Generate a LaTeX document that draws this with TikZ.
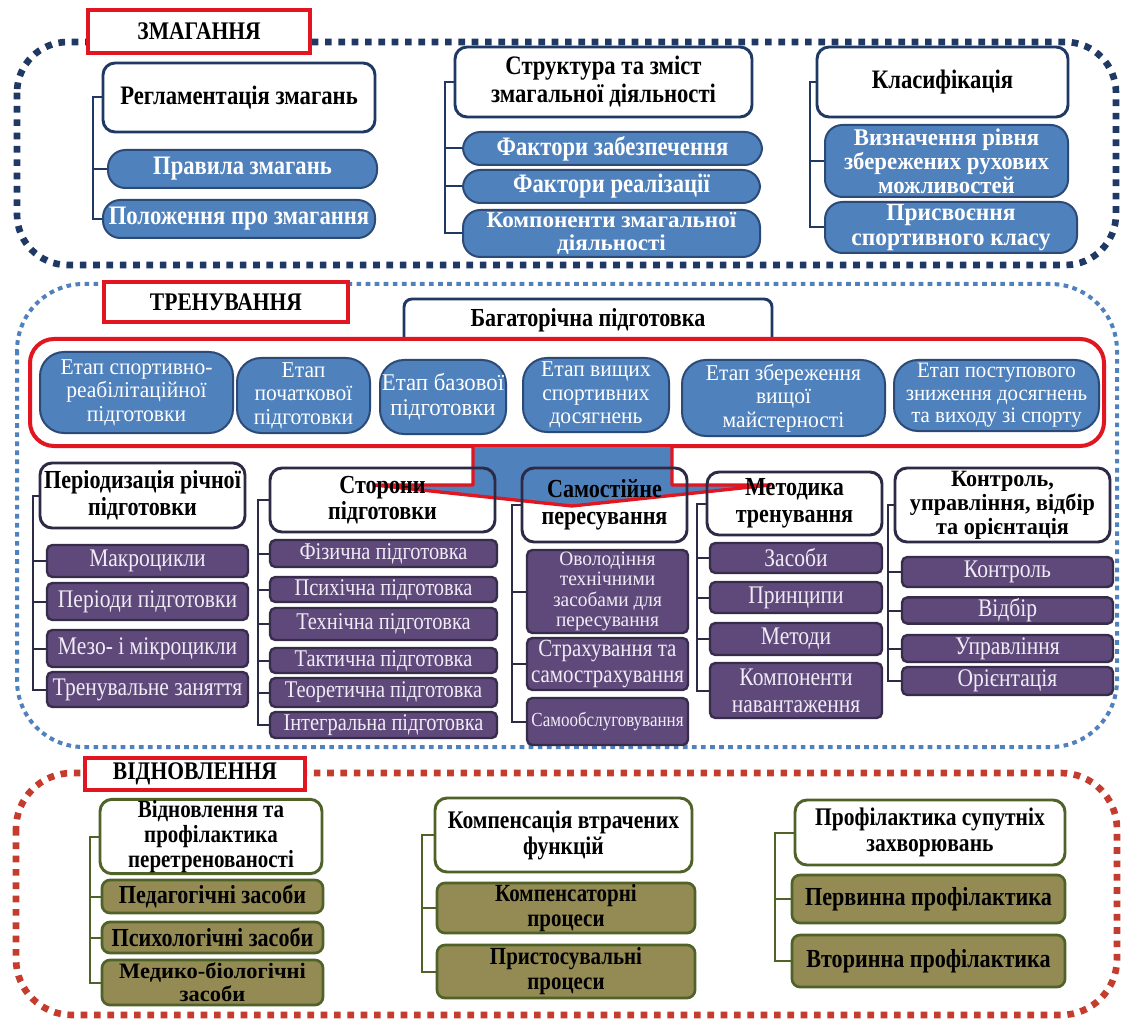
\documentclass[tikz,border=0pt]{standalone}
\usepackage{fontspec}
\setmainfont{Liberation Serif}[FakeStretch=0.85]
\newfontfamily\fA{Liberation Serif}[FakeStretch=0.95]
\newfontfamily\fB{Liberation Serif}[FakeStretch=1.02]
\definecolor{navy}{RGB}{31,56,100}
\definecolor{dotblue}{RGB}{79,129,189}
\definecolor{dotred}{RGB}{196,60,45}
\definecolor{tred}{RGB}{226,22,32}
\definecolor{bfill}{RGB}{79,129,189}
\definecolor{bdraw}{RGB}{44,74,120}
\definecolor{pfill}{RGB}{95,73,122}
\definecolor{pdraw}{RGB}{55,45,75}
\definecolor{ptext}{RGB}{240,236,246}
\definecolor{hdraw}{RGB}{45,42,70}
\definecolor{ofill}{RGB}{148,138,84}
\definecolor{odraw}{RGB}{79,98,40}
\newcommand\bx[7]{\node[#6, minimum width={(#4-#2)*0.75pt}, minimum height={(#5-#3)*0.75pt}] (#1) at ({(#2+#4)/2},{(#3+#5)/2}) {#7};}
\begin{document}
\begin{tikzpicture}[x=0.75pt,y=-0.75pt,
  base/.style={inner sep=1pt, align=center},
  titlebox/.style={base, draw=tred, line width=3pt, fill=white, font=\bfseries\fontsize{19}{19}\selectfont},
  tophead/.style={base, draw=navy, line width=2.2pt, fill=white, rounded corners=9pt, font=\bfseries\fontsize{20}{21}\selectfont},
  topitem/.style={base, draw=bdraw, line width=1.5pt, fill=bfill, text=white, rounded corners=13pt, font=\bfseries\fontsize{20}{20}\selectfont},
  stage/.style={base, draw=bdraw, line width=1.5pt, fill=bfill, text=white, rounded corners=18pt, font=\fA\fontsize{17}{17.5}\selectfont},
  multihead/.style={base, draw=navy, line width=2.2pt, fill=white, rounded corners=6pt, font=\bfseries\fontsize{19.5}{20}\selectfont},
  trhead/.style={base, draw=hdraw, line width=2.2pt, rounded corners=9pt, font=\bfseries\fontsize{19.5}{20}\selectfont},
  pitem/.style={base, draw=pdraw, line width=1.8pt, fill=pfill, text=ptext, rounded corners=4pt, font=\fontsize{19}{19.5}\selectfont},
  rhead/.style={base, draw=odraw, line width=2.2pt, fill=white, rounded corners=9pt, font=\bfseries\fontsize{19}{19.5}\selectfont},
  oitem/.style={base, draw=odraw, line width=2pt, fill=ofill, text=black, rounded corners=6pt, font=\bfseries\fontsize{19.5}{20}\selectfont},
  connA/.style={draw=navy, line width=1.5pt},
  connB/.style={draw=hdraw, line width=1.5pt},
  connC/.style={draw=odraw, line width=1.5pt}
]
\useasboundingbox (0,0) rectangle (1123,1019);
\fill[white] (0,0) rectangle (1123,1019);

% section frames
\draw[navy, line width=5pt, dash pattern=on 5pt off 5pt, rounded corners=38pt] (17,42) rectangle (1116,265);
\draw[dotblue, line width=3pt, dash pattern=on 3.5pt off 3.3pt, rounded corners=50pt] (17,284) rectangle (1117,747);
\draw[dotred, line width=5pt, dash pattern=on 5pt off 5pt, rounded corners=42pt] (16,773) rectangle (1117,1015);

% ===== ЗМАГАННЯ =====
\bx{tz}{88}{10}{310}{53}{titlebox}{ЗМАГАННЯ}
\bx{h1}{103}{63}{375}{132}{tophead}{Регламентація змагань}
\bx{a1}{108}{150}{377}{188}{topitem}{Правила змагань}
\bx{a2}{103}{200}{375}{238}{topitem}{Положення про змагання}
\bx{h2}{455}{47}{752}{117}{tophead}{Структура та зміст\\змагальної діяльності}
\bx{b1}{463}{132}{762}{165}{topitem}{Фактори забезпечення}
\bx{b2}{463}{170}{760}{203}{topitem}{Фактори реалізації}
\bx{b3}{463}{210}{760}{257}{topitem, font=\fB\bfseries\fontsize{17}{17.3}\selectfont}{Компоненти змагальної\\діяльності}
\bx{h3}{817}{47}{1068}{117}{tophead}{Класифікація}
\bx{c1}{825}{125}{1068}{197}{topitem, font=\fA\bfseries\fontsize{18}{18}\selectfont}{Визначення рівня\\збережених рухових\\можливостей}
\bx{c2}{825}{202}{1077}{253}{topitem, font=\fA\bfseries\fontsize{18.5}{18.8}\selectfont}{Присвоєння\\спортивного класу}
\coordinate (sA) at (93,0);
\coordinate (sB) at (445,0);
\coordinate (sC) at (810,0);
\draw[connA] (h1.west) -| (sA |- a2.west) -- (a2.west);
\draw[connA] (a1.west) -- (a1.west -| sA);
\draw[connA] (h2.west) -| (sB |- b3.west) -- (b3.west);
\draw[connA] (b1.west) -- (b1.west -| sB);
\draw[connA] (b2.west) -- (b2.west -| sB);
\draw[connA] (h3.west) -| (sC |- c2.west) -- (c2.west);
\draw[connA] (c1.west) -- (c1.west -| sC);

% ===== ТРЕНУВАННЯ =====
\bx{tt}{104}{282}{348}{322}{titlebox}{ТРЕНУВАННЯ}
\node[multihead, minimum width={(772-404)*0.75pt}, minimum height={(346-299)*0.75pt}, text depth=7pt] (bp) at ({(404+772)/2},{(299+346)/2}) {Багаторічна підготовка};
\bx{rb}{30}{339}{1104}{446}{base, draw=tred, line width=3pt, fill=white, rounded corners=18pt}{}
\bx{st1}{40}{352}{233}{433}{stage}{Етап спортивно-\\реабілітаційної\\підготовки}
\bx{st2}{237}{358}{370}{433}{stage}{Етап\\початкової\\підготовки}
\bx{st3}{380}{360}{506}{434}{stage, font=\fA\fontsize{18}{18.5}\selectfont}{Етап базової\\підготовки}
\bx{st4}{523}{358}{669}{432}{stage}{Етап вищих\\спортивних\\досягнень}
\bx{st5}{682}{360}{885}{436}{stage}{Етап збереження\\вищої\\майстерності}
\bx{st6}{894}{360}{1099}{431}{stage, font=\fA\fontsize{16.5}{17}\selectfont}{Етап поступового\\зниження досягнень\\та виходу зі спорту}

% big arrow
\fill[bfill] (473,447) -- (473,485) -- (374,485) -- (572,506) -- (770,485) -- (672,485) -- (672,447) -- cycle;
\draw[tred, line width=2.5pt, line join=round] (473,446) -- (473,485) -- (374,485) -- (572,506) -- (770,485) -- (672,485) -- (672,446);

\bx{ph}{40}{463}{245}{528}{trhead, fill=white}{Періодизація річної\\підготовки}
\bx{p1}{47}{545}{248}{577}{pitem}{Макроцикли}
\bx{p2}{47}{583}{248}{620}{pitem}{Періоди підготовки}
\bx{p3}{47}{630}{248}{667}{pitem}{Мезо- і мікроцикли}
\bx{p4}{47}{672}{248}{707}{pitem}{Тренувальне заняття}

\bx{sh}{270}{468}{495}{532}{trhead}{Сторони\\підготовки}
\bx{s1}{270}{540}{497}{567}{pitem, font=\fontsize{18}{18}\selectfont}{Фізична підготовка}
\bx{s2}{270}{577}{497}{602}{pitem, font=\fontsize{18}{18}\selectfont}{Психічна підготовка}
\bx{s3}{270}{608}{497}{640}{pitem, font=\fontsize{18}{18}\selectfont}{Технічна підготовка}
\bx{s4}{270}{648}{497}{673}{pitem, font=\fontsize{18}{18}\selectfont}{Тактична підготовка}
\bx{s5}{270}{678}{497}{707}{pitem, font=\fontsize{18}{18}\selectfont}{Теоретична підготовка}
\bx{s6}{270}{712}{497}{738}{pitem, font=\fontsize{18}{18}\selectfont}{Інтегральна підготовка}

\bx{mh}{522}{468}{687}{542}{trhead}{Самостійне\\пересування}
\bx{m1}{527}{550}{688}{633}{pitem, font=\fA\fontsize{15.3}{15.4}\selectfont}{Оволодіння\\технічними\\засобами для\\пересування}
\bx{m2}{527}{638}{688}{690}{pitem, font=\fontsize{18.5}{19}\selectfont}{Страхування та\\самострахування}
\bx{m3}{527}{698}{688}{745}{pitem, font=\fontsize{15}{16}\selectfont}{Самообслуговування}

\bx{kh}{707}{472}{882}{535}{trhead}{Методика\\тренування}
\bx{k1}{710}{543}{882}{573}{pitem}{Засоби}
\bx{k2}{710}{582}{882}{613}{pitem}{Принципи}
\bx{k3}{710}{623}{882}{655}{pitem}{Методи}
\bx{k4}{710}{663}{882}{718}{pitem, font=\fontsize{19}{20}\selectfont}{Компоненти\\навантаження}

\bx{ch}{895}{468}{1110}{542}{trhead, fill=white, font=\fA\bfseries\fontsize{17.5}{18}\selectfont}{Контроль,\\управління, відбір\\та орієнтація}
\bx{q1}{902}{557}{1113}{587}{pitem}{Контроль}
\bx{q2}{902}{598}{1113}{623}{pitem}{Відбір}
\bx{q3}{902}{635}{1113}{662}{pitem}{Управління}
\bx{q4}{902}{667}{1113}{695}{pitem}{Орієнтація}

\coordinate (sP) at (33,0);
\coordinate (sS) at (258,0);
\coordinate (sM) at (512,0);
\coordinate (sK) at (697,0);
\coordinate (sQ) at (888,0);
\draw[connB] (ph.west) -| (sP |- p4.west) -- (p4.west);
\foreach \n in {p1,p2,p3} \draw[connB] (\n.west) -- (\n.west -| sP);
\draw[connB] (sh.west) -| (sS |- s6.west) -- (s6.west);
\foreach \n in {s1,s2,s3,s4,s5} \draw[connB] (\n.west) -- (\n.west -| sS);
\draw[connB] (mh.west) -| (sM |- m3.west) -- (m3.west);
\foreach \n in {m1,m2} \draw[connB] (\n.west) -- (\n.west -| sM);
\draw[connB] (kh.west) -| (sK |- k4.west) -- (k4.west);
\foreach \n in {k1,k2,k3} \draw[connB] (\n.west) -- (\n.west -| sK);
\draw[connB] (ch.west) -| (sQ |- q4.west) -- (q4.west);
\foreach \n in {q1,q2,q3} \draw[connB] (\n.west) -- (\n.west -| sQ);

% ===== ВІДНОВЛЕННЯ =====
\bx{tv}{85}{758}{305}{790}{titlebox, line width=2.5pt}{ВІДНОВЛЕННЯ}
\bx{vh}{100}{800}{322}{873}{rhead, font=\bfseries\fontsize{18.5}{18.5}\selectfont}{Відновлення та\\профілактика\\перетренованості}
\bx{v1}{102}{880}{323}{913}{oitem}{Педагогічні засоби}
\bx{v2}{102}{922}{323}{953}{oitem}{Психологічні засоби}
\bx{v3}{102}{960}{323}{1005}{oitem, font=\fB\bfseries\fontsize{16.5}{17}\selectfont}{Медико-біологічні\\засоби}
\bx{wh}{435}{798}{692}{872}{rhead}{Компенсація втрачених\\функцій}
\bx{w1}{437}{883}{695}{933}{oitem, font=\bfseries\fontsize{18.5}{18.8}\selectfont}{Компенсаторні\\процеси}
\bx{w2}{437}{945}{695}{998}{oitem, font=\bfseries\fontsize{18.5}{18.8}\selectfont}{Пристосувальні\\процеси}
\bx{yh}{795}{800}{1065}{865}{rhead}{Профілактика супутніх\\захворювань}
\bx{y1}{792}{875}{1065}{923}{oitem}{Первинна профілактика}
\bx{y2}{792}{935}{1065}{987}{oitem}{Вторинна профілактика}
\coordinate (sV) at (90,0);
\coordinate (sW) at (422,0);
\coordinate (sY) at (775,0);
\draw[connC] (vh.west) -| (sV |- v3.west) -- (v3.west);
\foreach \n in {v1,v2} \draw[connC] (\n.west) -- (\n.west -| sV);
\draw[connC] (wh.west) -| (sW |- w2.west) -- (w2.west);
\draw[connC] (w1.west) -- (w1.west -| sW);
\draw[connC] (yh.west) -| (sY |- y2.west) -- (y2.west);
\draw[connC] (y1.west) -- (y1.west -| sY);
\end{tikzpicture}
\end{document}
